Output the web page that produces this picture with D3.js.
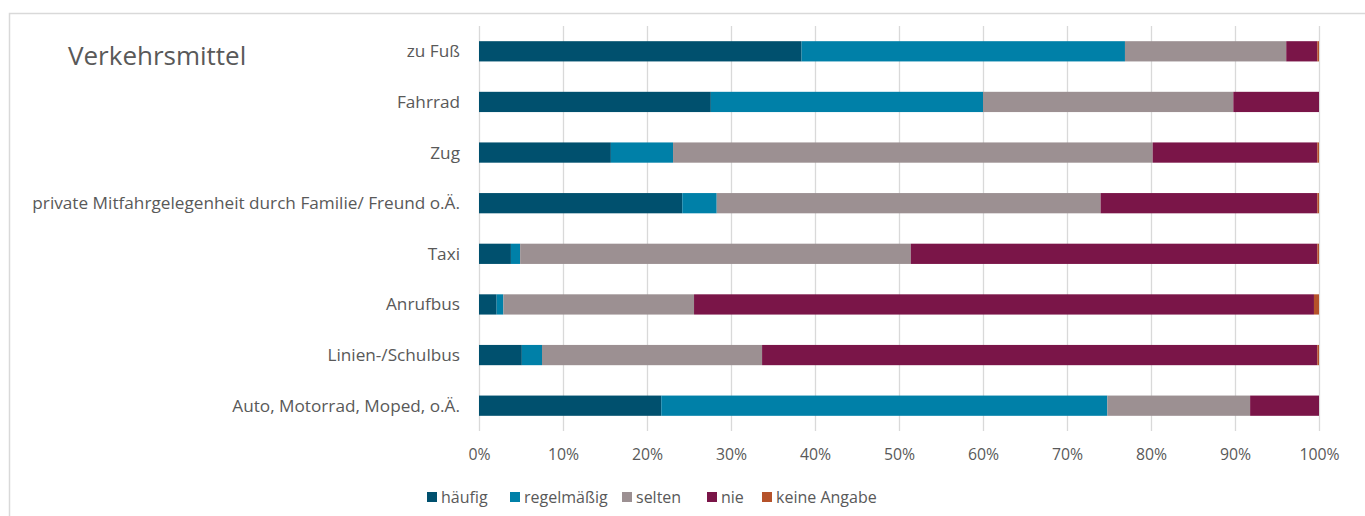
<!DOCTYPE html>
<html>
<head>
<meta charset="utf-8">
<script src="https://cdn.jsdelivr.net/npm/d3@7"></script>
<style>
  html, body { margin: 0; padding: 0; background: #fff; }
  svg { display: block; }
  text { font-family: "Open Sans", "Noto Sans", sans-serif; fill: #595959; }
</style>
</head>
<body>
<svg id="chart" width="1365" height="516"></svg>
<script>
const title = "Verkehrsmittel";
const categories = [
  "zu Fuß",
  "Fahrrad",
  "Zug",
  "private Mitfahrgelegenheit durch Familie/ Freund o.Ä.",
  "Taxi",
  "Anrufbus",
  "Linien-/Schulbus",
  "Auto, Motorrad, Moped, o.Ä."
];
const seriesNames = ["häufig", "regelmäßig", "selten", "nie", "keine Angabe"];
const haeufig     = [38.4, 27.6, 15.7, 24.2,  3.8,  2.1,  5.1, 21.7];
const regelmaessig= [38.5, 32.4,  7.4,  4.1,  1.1,  0.8,  2.4, 53.1];
const selten      = [19.2, 29.8, 57.1, 45.7, 46.5, 22.7, 26.2, 17.0];
const nie         = [ 3.7, 10.2, 19.6, 25.8, 48.4, 73.8, 66.1,  8.2];
const keineAngabe = [ 0.2,  0.0,  0.2,  0.2,  0.2,  0.6,  0.2,  0.0];
const seriesColors = ["#00506e", "#0080a8", "#9c9092", "#7a1548", "#b5522a"];
const tickValues = [0, 10, 20, 30, 40, 50, 60, 70, 80, 90, 100];

const seriesValues = [haeufig, regelmaessig, selten, nie, keineAngabe];
const rows = categories.map((c, i) => {
  const r = { cat: c };
  seriesNames.forEach((s, j) => r[s] = seriesValues[j][i]);
  return r;
});

const svg = d3.select("#chart");

// frame
svg.append("rect").attr("x", 9.5).attr("y", 13.5).attr("width", 1400).attr("height", 600)
  .attr("fill", "none").attr("stroke", "#d9d9d9").attr("stroke-width", 1.5);

svg.append("text").attr("x", 68).attr("y", 65).attr("font-size", 26).text(title);

const x = d3.scaleLinear().domain([0, 100]).range([479, 1319]);
const y = d3.scaleBand().domain(categories).range([26, 431]).paddingInner(0.6).paddingOuter(0.3);

// gridlines
svg.append("g").selectAll("line").data(tickValues).join("line")
  .attr("x1", d => x(d) + 0.5).attr("x2", d => x(d) + 0.5)
  .attr("y1", 26).attr("y2", 431)
  .attr("stroke", "#d9d9d9").attr("stroke-width", 1.3);

const stack = d3.stack().keys(seriesNames)(rows);
const color = d3.scaleOrdinal().domain(seriesNames).range(seriesColors);

svg.append("g").selectAll("g").data(stack).join("g")
  .attr("fill", d => color(d.key))
  .selectAll("rect").data(d => d).join("rect")
  .attr("x", d => x(d[0]))
  .attr("width", d => Math.max(0, x(d[1]) - x(d[0])))
  .attr("y", d => y(d.data.cat))
  .attr("height", y.bandwidth());

// category labels
svg.append("g").selectAll("text").data(categories).join("text")
  .attr("x", 460).attr("y", d => y(d) + y.bandwidth() / 2)
  .attr("dy", "0.35em").attr("text-anchor", "end").attr("font-size", 17.2)
  .text(d => d);

// x axis
const xAxis = d3.axisBottom(x).tickValues(tickValues).tickFormat(d => d + "%").tickSize(0).tickPadding(0);
const ax = svg.append("g").attr("transform", "translate(0,449)").call(xAxis);
ax.select(".domain").remove();
ax.selectAll("text").attr("font-size", 15.8).attr("fill", "#595959")
  .style("font-family", '"Open Sans", sans-serif');

// legend
const legendX = [427, 510, 622, 707, 762];
const lg = svg.append("g").selectAll("g").data(seriesNames).join("g")
  .attr("transform", (d, i) => `translate(${legendX[i]},492)`);
lg.append("rect").attr("width", 10).attr("height", 10).attr("fill", d => color(d));
lg.append("text").attr("x", 14).attr("y", 5).attr("dy", "0.36em").attr("font-size", 16).text(d => d);
</script>
</body>
</html>
